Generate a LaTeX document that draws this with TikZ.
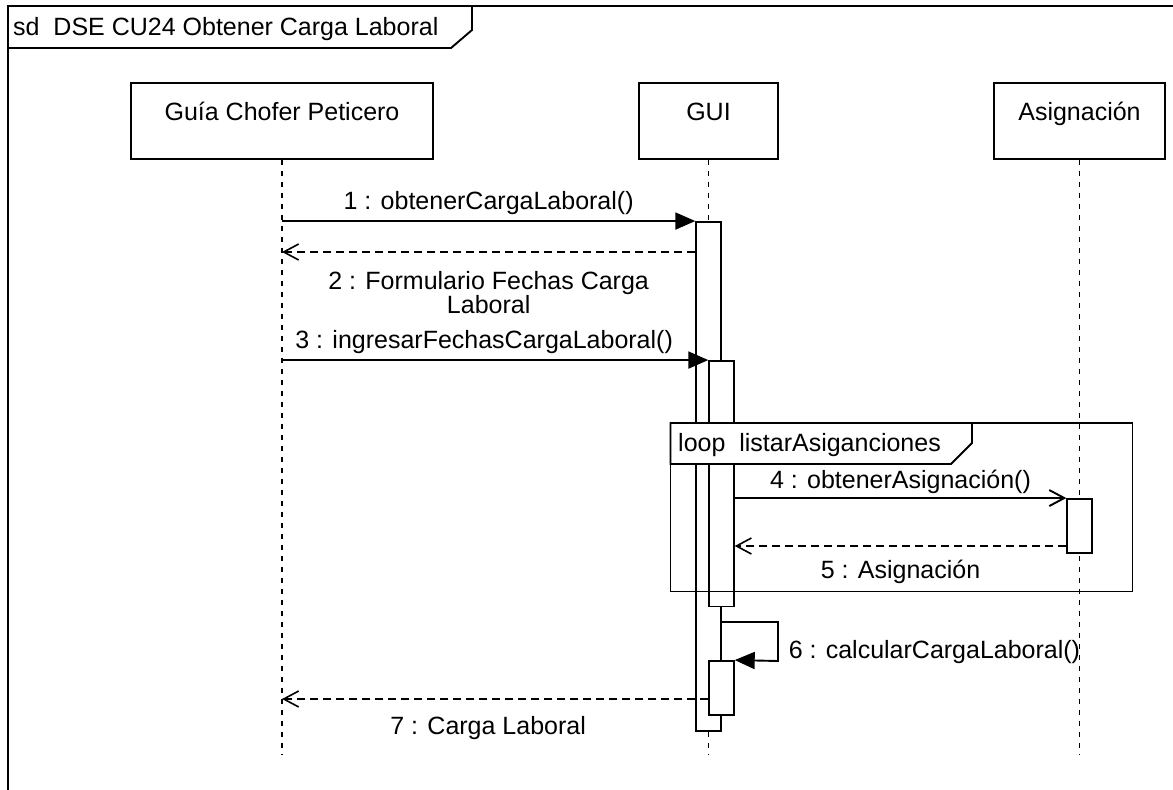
\documentclass[tikz,border=0pt]{standalone}
\usepackage{fontspec}
\setmainfont{Liberation Sans}
\usetikzlibrary{arrows.meta,positioning}

\tikzset{
  lifebox/.style={draw, line width=1.9pt, minimum width=#1, minimum height=76pt,
    text height=18pt, text depth=20pt, inner ysep=0pt},
  lifeline/.style={line width=1.5pt, dash pattern=on 5pt off 6pt},
  actbar/.style={draw, fill=white, line width=1.9pt, minimum width=24.5pt, inner sep=0pt},
  callmsg/.style={line width=1.9pt, -{Triangle[length=20pt,width=17pt]}},
  asyncmsg/.style={line width=1.9pt, -{Straight Barb[length=15pt,width=16pt]}},
  replymsg/.style={line width=1.6pt, dash pattern=on 8pt off 5pt,
    -{Straight Barb[length=15pt,width=16pt]}},
  fragline/.style={line width=1.9pt},
}

\begin{document}
\begin{tikzpicture}[x=1pt, y=-1pt, font=\fontsize{25}{21.5}\selectfont]
    \useasboundingbox (0,0) rectangle (1173,790);

    % Marco del diagrama
    \draw[line width=2pt] (8,790) -- (8,6) -- (1173,6);
    \draw[fragline] (8,48) -- (451,48) -- (472,30) -- (472,6);
    \node[anchor=west, inner sep=0pt] (titulo) at (13,29) {sd\ \ DSE CU24 Obtener Carga Laboral};

    % Cabeceras
    \node[lifebox=302pt] (guia) at (282,121) {Guía Chofer Peticero};
    \node[lifebox=139pt] (gui) at (708.5,121) {GUI};
    \node[lifebox=171pt] (asig) at (1079.5,121) {Asignación};

    % Lineas de vida
    \coordinate (fin) at (0,755);
    \draw[lifeline] (guia.south) -- (guia.south |- fin);
    \draw[lifeline] (gui.south) -- (gui.south |- fin);
    \draw[lifeline] (asig.south) -- (asig.south |- fin);

    % Activaciones
    \node[actbar, minimum height=509pt] (act1) at (708.5,476.5) {};
    \node[actbar, minimum height=245.5pt] (act2) at (721.5,483.75) {};
    \node[actbar, minimum height=54pt] (act3) at (721.5,688) {};
    \node[actbar, minimum height=54pt] (act4) at (1079.5,526) {};

    % Mensajes 1 a 3
    \draw[callmsg] (guia.south |- act1.north) -- (act1.north west)
        node[midway, above=2pt] (m1) {1 : obtenerCargaLaboral()};
    \draw[replymsg] (act1.west |- 0,252) -- (guia.south |- 0,252)
        node[midway, below=15pt, align=center] (m2) {2 : Formulario Fechas Carga\\Laboral};
    \draw[callmsg] (guia.south |- act2.north) -- (act2.north west)
        node[midway, above=2pt, xshift=-11pt] (m3) {3 : ingresarFechasCargaLaboral()};

    % Fragmento loop
    \draw[fragline] (670.5,423) rectangle (1132.5,591.5);
    \draw[fragline, fill=white] (670.5,423) -- (972,423) -- (972,443) -- (951,464) -- (670.5,464) -- cycle;
    \node[anchor=west, inner sep=0pt] (bucle) at (678,445) {loop\ \ listarAsiganciones};

    % Mensajes 4 y 5
    \draw[asyncmsg] (act2.east |- act4.north) -- (act4.north west)
        node[midway, above=0pt] (m4) {4 : obtenerAsignación()};
    \draw[replymsg] (act4.west |- 0,546) -- (act2.east |- 0,546)
        node[midway, below=10pt] (m5) {5 : Asignación};

    % Mensaje 6 (a si mismo)
    \coordinate (giro) at (778,661);
    \draw[callmsg] (act1.east |- 0,622) -| (giro)
        node[pos=0.89, right=6.5pt] (m6) {6 : calcularCargaLaboral()} -- (act3.north east);

    % Mensaje 7
    \draw[replymsg] (act3.west |- 0,699) -- (guia.south |- 0,699)
        node[midway, below=13pt, xshift=-7pt] (m7) {7 : Carga Laboral};
\end{tikzpicture}
\end{document}
